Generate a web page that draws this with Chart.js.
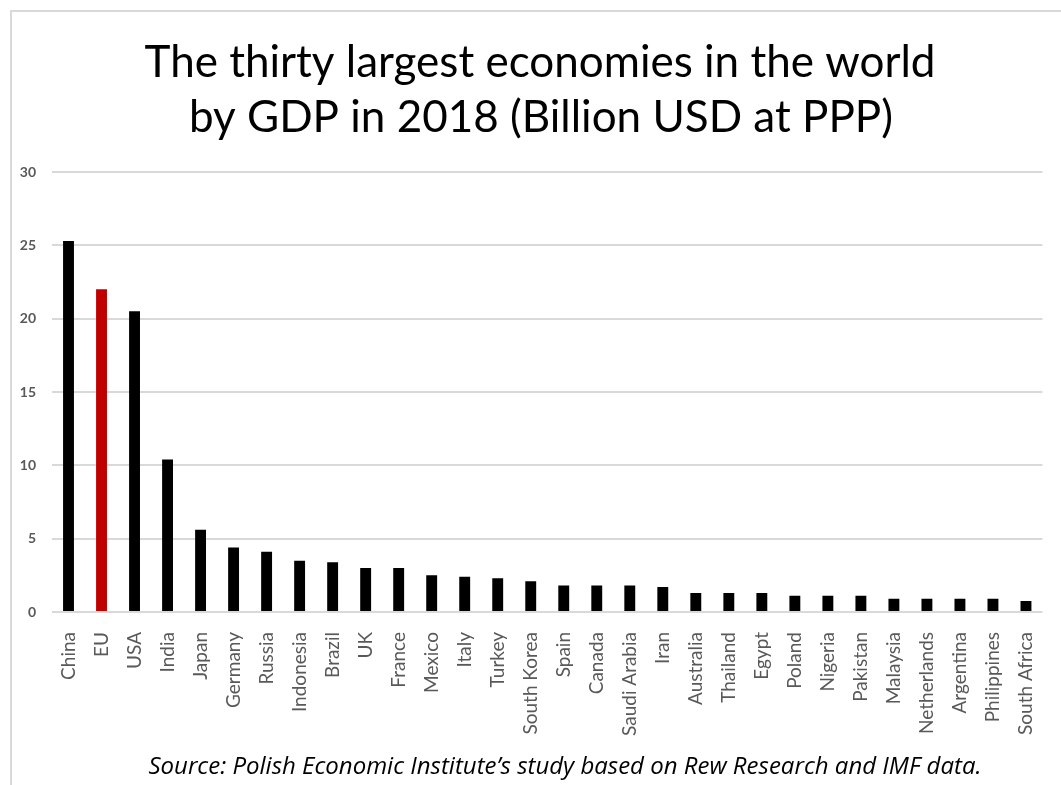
<!DOCTYPE html>
<html>
<head>
<meta charset="utf-8">
<title>Thirty largest economies 2018</title>
<script src="https://cdn.jsdelivr.net/npm/chart.js@4/dist/chart.umd.min.js"></script>
<style>
    html, body { margin: 0; padding: 0; background: #fff; }
    canvas { display: block; }
</style>
</head>
<body>
<canvas id="gdpChart" width="1061" height="785"></canvas>
<script>
// --- data ---
const countries = ['China', 'EU', 'USA', 'India', 'Japan', 'Germany', 'Russia', 'Indonesia', 'Brazil', 'UK',
    'France', 'Mexico', 'Italy', 'Turkey', 'South Korea', 'Spain', 'Canada', 'Saudi Arabia', 'Iran', 'Australia',
    'Thailand', 'Egypt', 'Poland', 'Nigeria', 'Pakistan', 'Malaysia', 'Netherlands', 'Argentina', 'Philippines', 'South Africa'];
const gdpValues = [25.3, 22.0, 20.5, 10.4, 5.6, 4.4, 4.1, 3.5, 3.4, 3.0,
    3.0, 2.5, 2.4, 2.3, 2.1, 1.8, 1.8, 1.8, 1.7, 1.3,
    1.3, 1.3, 1.1, 1.1, 1.1, 0.9, 0.9, 0.9, 0.9, 0.75];
const yTicks = [0, 5, 10, 15, 20, 25, 30];
const titleLines = ['The thirty largest economies in the world', 'by GDP in 2018 (Billion USD at PPP)'];
const sourceText = 'Source: Polish Economic Institute\u2019s study based on Rew Research and IMF data.';

const FONT = 'Lato, "Open Sans", sans-serif';

// frame + title + source note, drawn straight on the canvas
const decorPlugin = {
    id: 'decor',
    beforeDraw(chart) {
        const ctx = chart.ctx;
        ctx.save();
        ctx.fillStyle = '#fff';
        ctx.fillRect(0, 0, chart.width, chart.height);
        ctx.strokeStyle = '#d9d9d9';
        ctx.lineWidth = 2;
        ctx.beginPath();
        ctx.moveTo(11, chart.height);
        ctx.lineTo(11, 11);
        ctx.lineTo(chart.width, 11);
        ctx.stroke();
        ctx.restore();
    },
    afterDraw(chart) {
        const ctx = chart.ctx;
        ctx.save();
        ctx.fillStyle = '#000';
        ctx.textAlign = 'center';
        ctx.textBaseline = 'alphabetic';
        ctx.font = '44px ' + FONT;
        ctx.fillText(titleLines[0], 540, 77);
        ctx.fillText(titleLines[1], 541, 132);
        ctx.font = 'italic 24px "Open Sans", sans-serif';
        ctx.fillText(sourceText, 565, 774);
        ctx.restore();
    }
};

new Chart(document.getElementById('gdpChart'), {
    type: 'bar',
    data: {
        labels: countries,
        datasets: [{
            label: 'GDP',
            data: gdpValues,
            backgroundColor: countries.map(c => c === 'EU' ? '#c00000' : '#000000'),
            barPercentage: 0.33,
            categoryPercentage: 1.0
        }]
    },
    options: {
        responsive: false,
        animation: false,
        layout: { padding: { top: 172, left: 12, right: 14, bottom: 0 } },
        plugins: {
            legend: { display: false },
            tooltip: { enabled: false }
        },
        scales: {
            x: {
                grid: { display: false },
                border: { display: false },
                ticks: {
                    color: '#595959',
                    font: { family: FONT, size: 19 },
                    minRotation: 90,
                    maxRotation: 90,
                    autoSkip: false,
                    padding: 12
                },
                afterFit(scale) { scale.height = 173; }
            },
            y: {
                min: 0,
                max: 30,
                afterBuildTicks(scale) { scale.ticks = yTicks.map(v => ({ value: v })); },
                grid: { color: '#d9d9d9', lineWidth: 2, drawTicks: false },
                border: { display: false },
                ticks: {
                    color: '#595959',
                    font: { family: FONT, size: 14, weight: 'bold' },
                    padding: 16
                },
                afterFit(scale) { scale.width = 40; }
            }
        }
    },
    plugins: [decorPlugin]
});
</script>
</body>
</html>
